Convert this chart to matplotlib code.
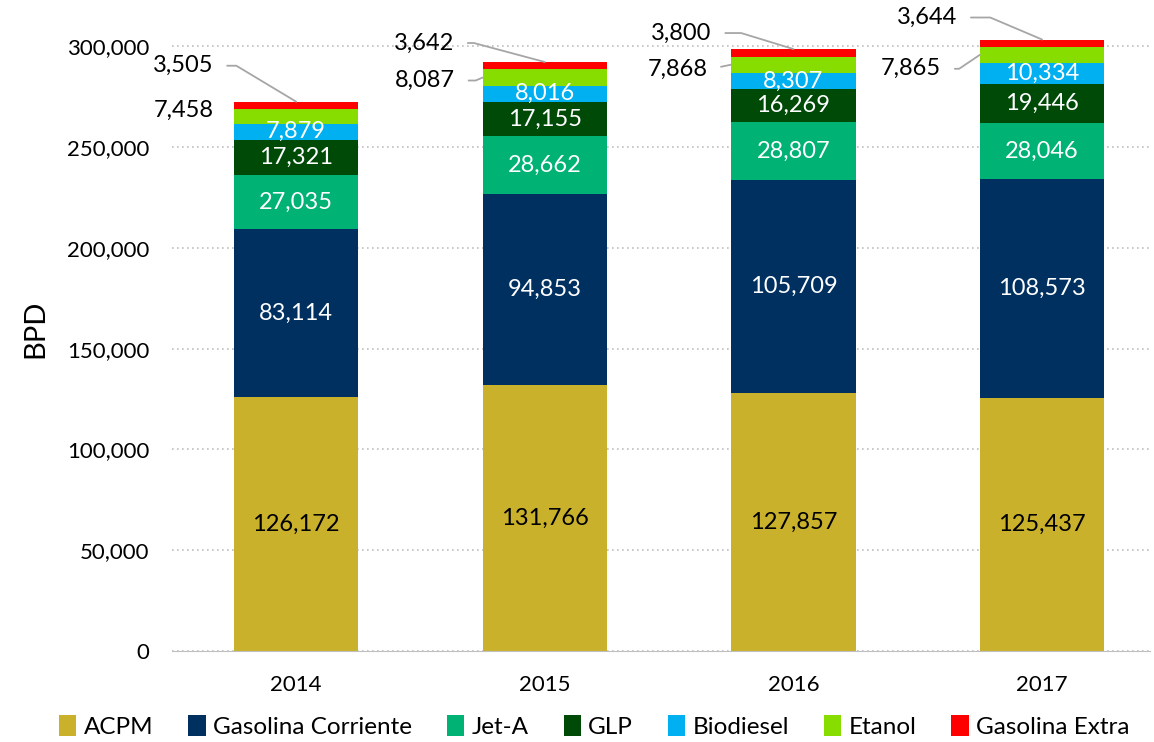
import matplotlib
matplotlib.use("Agg")
import matplotlib.pyplot as plt
import numpy as np

plt.rcParams['font.family'] = ['Lato', 'DejaVu Sans']

years = ['2014', '2015', '2016', '2017']
series = ['ACPM', 'Gasolina Corriente', 'Jet-A', 'GLP', 'Biodiesel', 'Etanol', 'Gasolina Extra']
acpm = [126172, 131766, 127857, 125437]
corriente = [83114, 94853, 105709, 108573]
jet_a = [27035, 28662, 28807, 28046]
glp = [17321, 17155, 16269, 19446]
biodiesel = [7879, 8016, 8307, 10334]
etanol = [7458, 8087, 7868, 7865]
extra = [3505, 3642, 3800, 3644]

colors = ['#C9B12B', '#003060', '#00B274', '#004A08', '#00B0F0', '#88DD00', '#FF0000']
label_colors = ['black', 'white', 'white', 'white', 'white', None, None]

data = [acpm, corriente, jet_a, glp, biodiesel, etanol, extra]

fig = plt.figure(figsize=(11.54, 7.42), dpi=100)
ax = fig.add_axes([0.149, 0.1226, 0.8475, 0.8694])

x = np.arange(len(years))
w = 0.5
bottom = np.zeros(len(years))
for vals, name, col, lc in zip(data, series, colors, label_colors):
    vals = np.array(vals, dtype=float)
    ax.bar(x, vals, w, bottom=bottom, color=col, label=name, zorder=3)
    if lc is not None:
        for i in range(len(x)):
            ax.text(x[i], bottom[i] + vals[i] / 2, f'{int(vals[i]):,}', ha='center', va='center',
                    color=lc, fontsize=17, zorder=4)
    bottom += vals

totals = bottom
etanol_mid = totals - np.array(extra) - np.array(etanol) / 2

# Gasolina Extra labels (offset in pixels from top centre of bar, angle of leader)
extra_off = [(-83, 36, -31), (-91, 19, -15), (-82, 16, -17), (-85, 22, -23)]
for i, (dx, dy, ang) in enumerate(extra_off):
    ax.annotate(f'{extra[i]:,}', xy=(x[i], totals[i]), xytext=(dx, dy),
                textcoords='offset pixels', ha='right', va='center', fontsize=17,
                arrowprops=dict(arrowstyle='-', color='#A6A6A6', lw=1.3, relpos=(1, 0.5),
                                shrinkA=8, shrinkB=0,
                                connectionstyle=f'angle,angleA=0,angleB={ang},rad=0'))

# Etanol labels (offset from left edge of bar)
etanol_off = [(-20, 6, None), (-28, -3, 23), (-24, -5, 0), (-39, -14, 34)]
for i, (dx, dy, ang) in enumerate(etanol_off):
    if ang is None:
        ax.annotate(f'{etanol[i]:,}', xy=(x[i] - w / 2, etanol_mid[i]), xytext=(dx, dy),
                    textcoords='offset pixels', ha='right', va='center', fontsize=17)
    else:
        cs = 'arc3' if ang == 0 else f'angle,angleA=0,angleB={ang},rad=0'
        ax.annotate(f'{etanol[i]:,}', xy=(x[i] - w / 2, etanol_mid[i]), xytext=(dx, dy),
                    textcoords='offset pixels', ha='right', va='center', fontsize=17,
                    arrowprops=dict(arrowstyle='-', color='#A6A6A6', lw=1.3, relpos=(1, 0.5),
                                    shrinkA=8, shrinkB=0, connectionstyle=cs))

ax.set_xlim(-0.5, 3.434)
ax.set_ylim(0, 320000)
ax.set_yticks(np.arange(0, 300001, 50000))
ax.yaxis.set_major_formatter(matplotlib.ticker.FuncFormatter(lambda v, p: f'{int(v):,}'))
ax.set_xticks(x)
ax.set_xticklabels(years)
ax.tick_params(axis='y', length=0, pad=16, labelsize=16)
ax.tick_params(axis='x', length=0, pad=17, labelsize=16)
ax.grid(axis='y', color='#BFBFBF', linestyle=(0, (1, 2)), lw=1.2, zorder=0)
for s in ['top', 'right', 'left']:
    ax.spines[s].set_visible(False)
ax.spines['bottom'].set_color('#BFBFBF')
ax.spines['bottom'].set_zorder(5)
ax.set_ylabel('BPD', fontsize=21, labelpad=14)

fig.legend(loc='lower center', bbox_to_anchor=(0.515, -0.024), ncol=7, frameon=False, fontsize=17.5,
           handlelength=0.7, handleheight=0.9, handletextpad=0.3, columnspacing=1.45)

fig.savefig('out.png', dpi=100)
